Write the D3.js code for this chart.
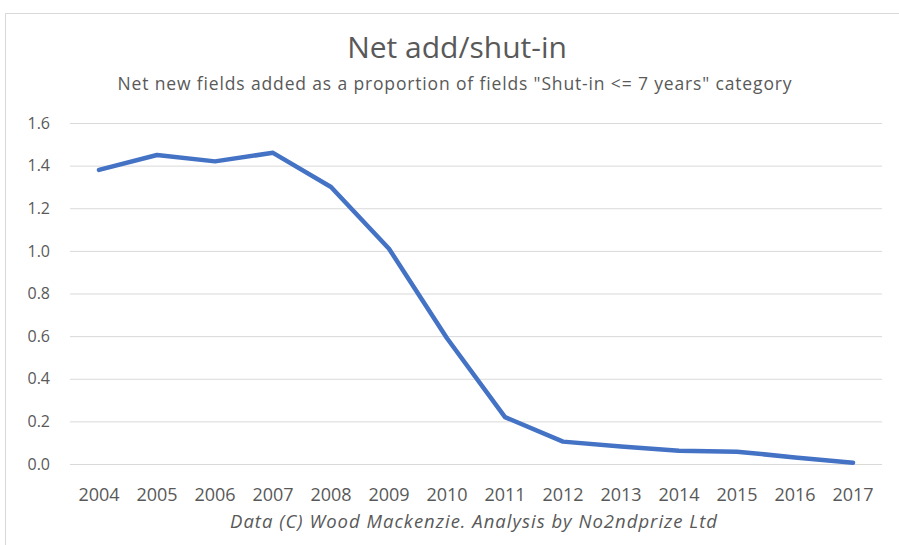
<!DOCTYPE html>
<html>
<head>
<meta charset="utf-8">
<script src="https://cdn.jsdelivr.net/npm/d3@7"></script>
<style>
  html, body { margin: 0; padding: 0; background: #fff; }
  svg { display: block; }
  text { font-family: "Open Sans", "Noto Sans", sans-serif; fill: #595959; }
</style>
</head>
<body>
<script>
// Years on the category axis
const years = ["2004","2005","2006","2007","2008","2009","2010","2011","2012","2013","2014","2015","2016","2017"];
// Net new fields added / shut-in (<= 7 years) fields
const ratio = [1.38, 1.45, 1.42, 1.46, 1.30, 1.01, 0.59, 0.22, 0.105, 0.082, 0.062, 0.058, 0.031, 0.006];
// Value-axis ticks
const yTicks = [0, 0.2, 0.4, 0.6, 0.8, 1.0, 1.2, 1.4, 1.6];

const W = 899, H = 545;
const plot = { left: 70, right: 882, top: 123, bottom: 464 };

const svg = d3.select("body").append("svg")
  .attr("width", W).attr("height", H);

// chart frame
svg.append("rect")
  .attr("x", 5.5).attr("y", 13.5)
  .attr("width", W + 10).attr("height", H + 10)
  .attr("fill", "#fff").attr("stroke", "#d9d9d9");

const x = d3.scaleBand().domain(years).range([plot.left, plot.right]);
const y = d3.scaleLinear().domain([0, 1.6]).range([plot.bottom, plot.top]);

// horizontal gridlines + value labels
const yAxis = d3.axisLeft(y).tickValues(yTicks)
  .tickFormat(d3.format(".1f"))
  .tickSize(-(plot.right - plot.left)).tickPadding(20);
const gy = svg.append("g")
  .attr("transform", `translate(${plot.left},0)`)
  .call(yAxis);
gy.select(".domain").remove();
gy.selectAll(".tick line").attr("stroke", "#d9d9d9").attr("stroke-width", 1);
gy.selectAll(".tick text")
  .attr("font-size", 16).attr("fill", "#595959")
  .attr("font-family", "\"Open Sans\", sans-serif");

// category labels
const xAxis = d3.axisBottom(x).tickSize(0).tickPadding(24);
const gx = svg.append("g")
  .attr("transform", `translate(0,${plot.bottom})`)
  .call(xAxis);
gx.select(".domain").remove();
gx.selectAll(".tick text")
  .attr("font-size", 18).attr("fill", "#595959")
  .attr("font-family", "\"Open Sans\", sans-serif");

// data line
const line = d3.line()
  .x((d, i) => x(years[i]) + x.bandwidth() / 2)
  .y(d => y(d));
svg.append("path")
  .datum(ratio)
  .attr("d", line)
  .attr("fill", "none")
  .attr("stroke", "#4472C4")
  .attr("stroke-width", 4.5)
  .attr("stroke-linejoin", "round")
  .attr("stroke-linecap", "round");

// titles
svg.append("text")
  .attr("x", 457).attr("y", 58)
  .attr("text-anchor", "middle")
  .attr("font-size", 30)
  .text("Net add/shut-in");

svg.append("text")
  .attr("x", 455).attr("y", 90)
  .attr("text-anchor", "middle")
  .attr("font-size", 17.5)
  .attr("letter-spacing", 0.85)
  .text("Net new fields added as a proportion of fields \"Shut-in <= 7 years\" category");

svg.append("text")
  .attr("x", 474).attr("y", 528)
  .attr("text-anchor", "middle")
  .attr("font-size", 18.5)
  .attr("letter-spacing", 1)
  .attr("font-style", "italic")
  .text("Data (C) Wood Mackenzie. Analysis by No2ndprize Ltd");
</script>
</body>
</html>
